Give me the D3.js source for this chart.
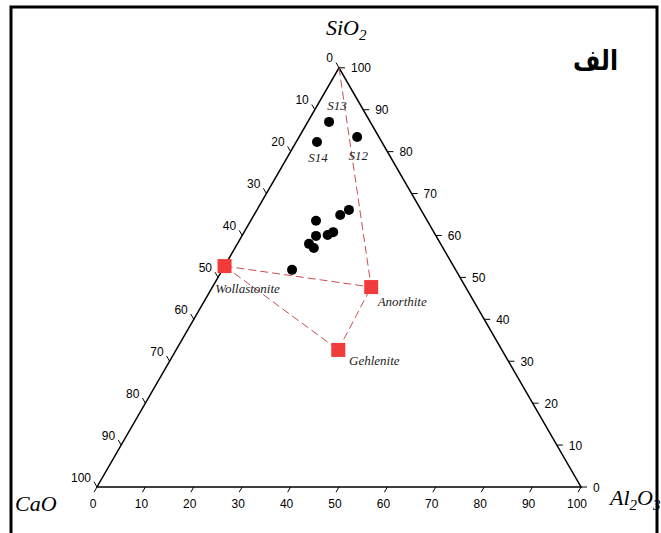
<!DOCTYPE html>
<html><head><meta charset="utf-8">
<script src="https://cdn.jsdelivr.net/npm/d3@7"></script>
<style>html,body{margin:0;padding:0;background:#fff;}svg{display:block;}</style>
</head><body>
<svg id="chart" width="661" height="533"></svg>
<script>
// Data: [CaO, SiO2, Al2O3] (%)
const sampleCaO   = [8.5, 4.5, 13.4, 14.9, 17.3, 23.0, 20.8, 22.3, 24.8, 27.2, 26.7, 33.8];
const sampleSiO2  = [87.1, 83.5, 82.3, 66.1, 64.9, 63.5, 60.8, 60.1, 59.9, 58.0, 57.0, 51.8];
const sampleAl2O3 = [4.4, 12.0, 4.3, 19.0, 17.8, 13.5, 18.4, 17.6, 15.3, 14.8, 16.3, 14.4];
const sampleLabels = ["S13", "S12", "S14", "", "", "", "", "", "", "", "", ""];

const mineralNames = ["Wollastonite", "Anorthite", "Gehlenite"];
const mineralCaO   = [47.3, 19.5, 33.8];
const mineralSiO2  = [52.7, 47.7, 32.7];
const mineralAl2O3 = [0.0, 32.8, 33.5];

// tie lines: SiO2 apex -> Anorthite, Wollastonite-Anorthite, Wollastonite-Gehlenite, Gehlenite-Anorthite
const apexCaO = 0, apexSiO2 = 100, apexAl2O3 = 0;

const tickValues = [0, 10, 20, 30, 40, 50, 60, 70, 80, 90, 100];
const titleCaO = "CaO", titleSiO2 = "SiO", titleAl2O3 = "Al";
const panelLabel = "الف";

const svg = d3.select("#chart");
// ternary scales
const xs = d3.scaleLinear().domain([0, 100]).range([97, 581]);   // Al2O3 + SiO2/2
const ys = d3.scaleLinear().domain([0, 100]).range([487, 67.8]); // SiO2
function P(c, s, a) { const t = c + s + a; s = s * 100 / t; a = a * 100 / t; return [xs(a + s / 2), ys(s)]; }

// frame
svg.append("rect").attr("x", 11).attr("y", 7).attr("width", 646).attr("height", 540)
  .attr("fill", "none").attr("stroke", "#000").attr("stroke-width", 3);

const L = P(100, 0, 0), R = P(0, 0, 100), T = P(0, 100, 0);
svg.append("path").attr("d", d3.line()([L, R, T, L]) + "Z").attr("fill", "none")
  .attr("stroke", "#000").attr("stroke-width", 1.5).attr("stroke-linejoin", "miter");

const g = svg.append("g").attr("font-family", "'Liberation Sans', Arial, sans-serif").attr("font-size", 12).attr("fill", "#000");
const tl = 6;
tickValues.forEach(v => {
  // bottom axis (Al2O3)
  let p = P(100 - v, 0, v);
  g.append("line").attr("x1", p[0]).attr("y1", p[1]).attr("x2", p[0] - 0.5 * tl).attr("y2", p[1] + 0.866 * tl).attr("stroke", "#000").attr("stroke-width", 1);
  g.append("text").attr("x", p[0] - 4).attr("y", p[1] + 21).attr("text-anchor", "middle").text(v);
  // right axis (SiO2)
  p = P(0, v, 100 - v);
  g.append("line").attr("x1", p[0]).attr("y1", p[1]).attr("x2", p[0] + tl).attr("y2", p[1]).attr("stroke", "#000").attr("stroke-width", 1);
  g.append("text").attr("x", p[0] + 12).attr("y", p[1] + 4.5).attr("text-anchor", "start").text(v);
  // left axis (CaO)
  p = P(v, 100 - v, 0);
  g.append("line").attr("x1", p[0]).attr("y1", p[1]).attr("x2", p[0] - 0.5 * tl).attr("y2", p[1] - 0.866 * tl).attr("stroke", "#000").attr("stroke-width", 1);
  g.append("text").attr("x", p[0] - 6).attr("y", p[1] - 5.5).attr("text-anchor", "end").text(v);
});

// axis titles
const tf = "'Liberation Serif', 'Times New Roman', serif";
const t1 = svg.append("text").attr("x", 326).attr("y", 35).attr("font-family", tf).attr("font-style", "italic").attr("font-size", 22);
t1.append("tspan").text(titleSiO2);
t1.append("tspan").attr("dy", 5).attr("font-size", 15).text("2");
svg.append("text").attr("x", 15).attr("y", 511).attr("font-family", tf).attr("font-style", "italic").attr("font-size", 22).text(titleCaO);
const t3 = svg.append("text").attr("x", 610).attr("y", 505).attr("font-family", tf).attr("font-style", "italic").attr("font-size", 22);
t3.append("tspan").text(titleAl2O3);
t3.append("tspan").attr("dy", 5).attr("font-size", 15).text("2");
t3.append("tspan").attr("dy", -5).text("O");
t3.append("tspan").attr("dy", 5).attr("font-size", 15).text("3");

// panel label
svg.append("text").attr("x", 573).attr("y", 70).attr("text-anchor", "start")
  .attr("font-family", "'DejaVu Sans', sans-serif").attr("font-weight", "bold").attr("font-size", 28)
  .attr("textLength", 45).attr("lengthAdjust", "spacingAndGlyphs").text(panelLabel);

// tie lines
const M = i => P(mineralCaO[i], mineralSiO2[i], mineralAl2O3[i]);
const ties = [[P(apexCaO, apexSiO2, apexAl2O3), M(1)], [M(0), M(1)], [M(0), M(2)], [M(2), M(1)]];
ties.forEach(([a, b]) => {
  svg.append("line").attr("x1", a[0]).attr("y1", a[1]).attr("x2", b[0]).attr("y2", b[1])
    .attr("stroke", "#c9504f").attr("stroke-width", 1).attr("stroke-dasharray", "8,4");
});

// samples
sampleCaO.forEach((c, i) => {
  const p = P(c, sampleSiO2[i], sampleAl2O3[i]);
  svg.append("circle").attr("cx", p[0]).attr("cy", p[1]).attr("r", 5).attr("fill", "#000");
});
const lblOff = { "S13": [8, -16], "S12": [1, 19], "S14": [1, 16] };
sampleLabels.forEach((l, i) => {
  if (!l) return;
  const p = P(sampleCaO[i], sampleSiO2[i], sampleAl2O3[i]);
  svg.append("text").attr("x", p[0] + lblOff[l][0]).attr("y", p[1] + lblOff[l][1] + 4).attr("text-anchor", "middle")
    .attr("font-family", tf).attr("font-style", "italic").attr("font-size", 13).attr("fill", "#222").text(l);
});

// minerals
const mOff = [[23, 27], [31, 19], [36, 15]];
mineralNames.forEach((n, i) => {
  const p = M(i);
  svg.append("rect").attr("x", p[0] - 7).attr("y", p[1] - 7).attr("width", 14).attr("height", 14).attr("fill", "#f23b3b");
  svg.append("text").attr("x", p[0] + mOff[i][0]).attr("y", p[1] + mOff[i][1]).attr("text-anchor", "middle")
    .attr("font-family", tf).attr("font-style", "italic").attr("font-size", 13).attr("fill", "#222").text(n);
});
</script>
</body></html>
